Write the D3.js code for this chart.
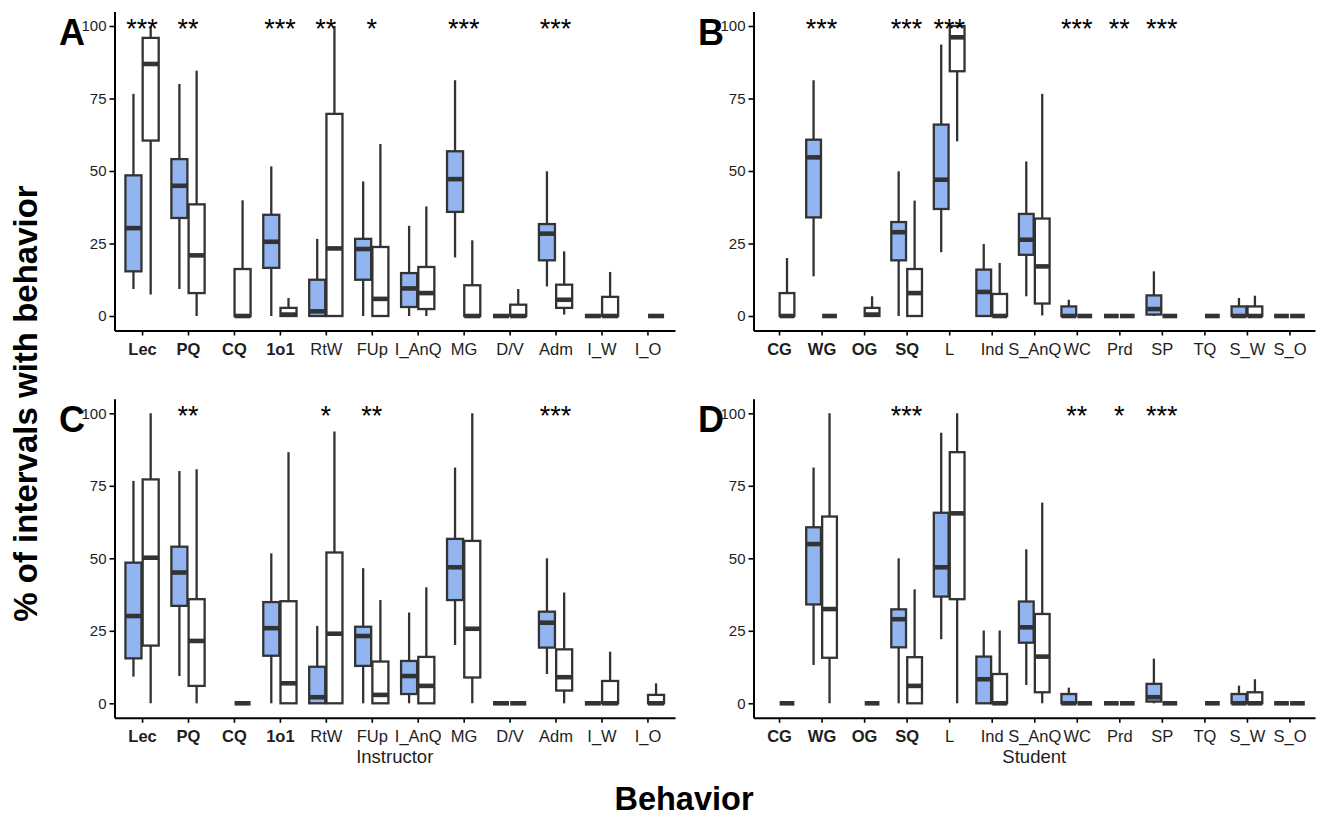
<!DOCTYPE html>
<html>
<head>
<meta charset="utf-8">
<script src="https://cdn.jsdelivr.net/npm/d3@7"></script>
<style>
  body { margin: 0; background: #fff; }
  svg { display: block; font-family: "Liberation Sans", Arial, sans-serif; }
</style>
</head>
<body>
<svg id="chart" width="1321" height="816"></svg>
<script>
// categories
const instructorCats = ['Lec','PQ','CQ','1o1','RtW','FUp','I_AnQ','MG','D/V','Adm','I_W','I_O']
const studentCats = ['CG','WG','OG','SQ','L','Ind','S_AnQ','WC','Prd','SP','TQ','S_W','S_O']
const instructorBold = ['Lec','PQ','CQ','1o1']
const studentBold = ['CG','WG','OG','SQ']
const yTicks = [0,25,50,75,100]

// box stats: [lower whisker, q1, median, q3, upper whisker], null = no box
const aFilled = [[9.3,15.4,30.3,48.5,76.6],[9.3,33.8,44.9,54.1,80],null,[0,16.6,25.6,34.9,51.6],[0,0,1.6,12.5,26.6],[0,12.5,23.1,26.6,46.4],[0,3.1,9.5,14.8,31.1],[20.2,35.9,47.2,56.8,81.3],[0,0,0,0,0],[10.2,19.2,28.4,31.7,49.9],[0,0,0,0,0],null]
const aOpen = [[7.4,60.5,86.9,95.9,100],[0,7.9,20.9,38.5,84.6],[0,0,0,16.2,39.9],[0,0,0.5,2.8,6.2],[0,0,23.3,69.7,100],[0,0,5.9,23.8,59.3],[0,2.4,7.9,16.9,37.8],[0,0,0,10.6,26.1],[0,0,0,3.9,9.3],[0.5,2.8,5.6,10.8,22.3],[0,0,0,6.6,15.2],[0,0,0,0,0]]
const aSig = ['***','**','','***','**','*','','***','','***','','']

const bFilled = [null,[13.7,34,54.7,60.8,81.3],null,[0,19.2,28.9,32.4,49.9],[22,36.9,47,66,93.6],[0,0,8.3,16,24.8],[6.8,21.1,26.3,35.2,53.3],[0,0,0,3.3,5.6],[0,0,0,0,0],[0,0.5,2.4,7.1,15.4],null,[0,0,0,3.3,6.2],[0,0,0,0,0]]
const bOpen = [[0,0,0,7.9,20],[0,0,0,0,0],[0,0,0.5,2.8,6.8],[0,0,7.9,16.2,39.8],[60.2,84.4,96.1,100,100],[0,0,0,7.6,18.3],[0.2,4.3,17.1,33.6,76.6],[0,0,0,0,0],[0,0,0,0,0],[0,0,0,0,0],[0,0,0,0,0],[0,0,0,3.3,7],[0,0,0,0,0]]
const bSig = ['','***','','***','***','','','***','**','***','','','']

const cFilled = [[9.2,15.5,30.1,48.5,76.7],[9.4,33.6,45.1,54,80.1],null,[0,16.4,25.9,34.9,51.7],[0,0,2.1,12.6,26.7],[0,12.9,23.2,26.4,46.6],[0,3.2,9.4,14.6,31.3],[20.1,35.6,46.9,56.7,81.3],[0,0,0,0,0],[10.1,19.2,27.8,31.6,50],[0,0,0,0,0],null]
const cOpen = [[0,19.9,50.2,77.2,100],[0,6,21.5,35.9,80.7],[0,0,0,0,0],[0,0,6.9,35.2,86.6],[0,0,24,52,93.7],[0,0,2.9,14.4,35.6],[0,0,6,16,40],[0,8.9,25.7,56,100],[0,0,0,0,0],[0,4.4,9,18.6,38.2],[0,0,0,7.7,17.8],[0,0,0,2.9,6.9]]
const cSig = ['','**','','','*','**','','','','***','','']

const dFilled = [null,[13.2,34.1,54.9,60.7,81.3],null,[0,19.3,29,32.4,50],[22.1,36.8,46.9,65.7,93.3],[0,0,8.3,16.1,25.1],[6.3,20.9,26.2,35.1,53.1],[0,0,0,3.2,5.4],[0,0,0,0,0],[0,0.6,2.1,6.7,15.4],null,[0,0,0,3.2,6.1],[0,0,0,0,0]]
const dOpen = [[0,0,0,0,0],[0,15.7,32.5,64.4,100],[0,0,0,0,0],[0,0,6,15.9,39.3],[0,35.9,65.5,86.6,100],[0,0,0,10.1,25.1],[0,3.8,16.1,30.8,69.2],[0,0,0,0,0],[0,0,0,0,0],[0,0,0,0,0],[0,0,0,0,0],[0,0,0,3.8,8.3],[0,0,0,0,0]]
const dSig = ['','','','***','','','','**','*','***','','','']

const fillBlue = '#92b5f1'
const boxLine = '#333333'

const svg = d3.select('#chart')

const panels = [
  {tag:'A', cats:instructorCats, bold:instructorBold, filled:aFilled, open:aOpen, sig:aSig, left:114.5, right:675, bottom:330.5, top:11.5, title:null},
  {tag:'B', cats:studentCats, bold:studentBold, filled:bFilled, open:bOpen, sig:bSig, left:753.5, right:1315, bottom:330.5, top:11.5, title:null},
  {tag:'C', cats:instructorCats, bold:instructorBold, filled:cFilled, open:cOpen, sig:cSig, left:114.5, right:675, bottom:717.8, top:398.8, title:'Instructor'},
  {tag:'D', cats:studentCats, bold:studentBold, filled:dFilled, open:dOpen, sig:dSig, left:753.5, right:1315, bottom:717.8, top:398.8, title:'Student'}
]

function drawPanel(p){
  const g = svg.append('g')

  const y = d3.scaleLinear().domain([-5,105]).range([p.bottom,p.top])
  const x = d3.scalePoint().domain(p.cats).range([p.left,p.right]).padding(0.6)
  const step = x.step()
  const bw = step*0.375

  // boxes, two per category
  const rows = []
  p.cats.forEach((c,i)=>{
    if(p.filled[i]) rows.push({cat:c, s:p.filled[i], off:-bw/2, fill:fillBlue})
    if(p.open[i]) rows.push({cat:c, s:p.open[i], off:bw/2, fill:'#ffffff'})
  })

  const box = g.selectAll('.box').data(rows).join('g').attr('class','box')
  box.append('line')
    .attr('x1',d=>x(d.cat)+d.off).attr('x2',d=>x(d.cat)+d.off)
    .attr('y1',d=>y(d.s[0])).attr('y2',d=>y(d.s[4]))
    .attr('stroke',boxLine).attr('stroke-width',2.3)
  box.append('rect')
    .attr('x',d=>x(d.cat)+d.off-bw/2+0.6)
    .attr('width',bw-1.2)
    .attr('y',d=>y(d.s[3]))
    .attr('height',d=>y(d.s[1])-y(d.s[3]))
    .attr('fill',d=>d.fill)
    .attr('stroke',boxLine).attr('stroke-width',2.3)
  box.append('line')
    .attr('x1',d=>x(d.cat)+d.off-bw/2+0.6).attr('x2',d=>x(d.cat)+d.off+bw/2-0.6)
    .attr('y1',d=>y(d.s[2])).attr('y2',d=>y(d.s[2]))
    .attr('stroke',boxLine).attr('stroke-width',4.6)

  // significance stars
  g.selectAll('.sig').data(p.cats).join('text')
    .attr('x',d=>x(d))
    .attr('y',y(100)+12)
    .attr('text-anchor','middle')
    .attr('font-size','27px')
    .attr('fill','#000')
    .text((d,i)=>p.sig[i])

  // axes
  const yAxis = d3.axisLeft(y).tickValues(yTicks).tickSize(5).tickSizeOuter(0).tickPadding(3)
  const xAxis = d3.axisBottom(x).tickSize(5).tickSizeOuter(0).tickPadding(4)

  const ya = g.append('g').attr('transform',`translate(${p.left},0)`).call(yAxis)
  const xa = g.append('g').attr('transform',`translate(0,${p.bottom})`).call(xAxis)

  ;[ya,xa].forEach(a=>{
    a.select('.domain').attr('stroke','#000').attr('stroke-width',2)
    a.selectAll('.tick line').attr('stroke','#000').attr('stroke-width',1.6)
    a.selectAll('.tick text').attr('fill','#1e1e1e').attr('font-family','"Liberation Sans", Arial, sans-serif')
  })
  ya.selectAll('.tick text').attr('font-size','15px')
  xa.selectAll('.tick text').attr('font-size','16.5px').attr('dy','0.92em')
    .attr('font-weight',d=>p.bold.includes(d)?'bold':'normal')

  if(p.title){
    g.append('text')
      .attr('x',(p.left+p.right)/2)
      .attr('y',p.bottom+45)
      .attr('text-anchor','middle')
      .attr('font-size','18.5px')
      .attr('fill','#1e1e1e')
      .text(p.title)
  }

  // panel letter on top of the 100 label
  g.append('text')
    .attr('x',p.left-55.5)
    .attr('y',p.top+33.5)
    .attr('font-size','36px')
    .attr('font-weight','bold')
    .attr('fill','#000')
    .text(p.tag)
}

panels.forEach(drawPanel)

svg.append('text')
  .attr('transform','translate(37,403.5) rotate(-90)')
  .attr('text-anchor','middle')
  .attr('font-size','33px')
  .attr('font-weight','bold')
  .text('% of intervals with behavior')

svg.append('text')
  .attr('x',684)
  .attr('y',810)
  .attr('text-anchor','middle')
  .attr('font-size','32.5px')
  .attr('font-weight','bold')
  .text('Behavior')
</script>
</body>
</html>
